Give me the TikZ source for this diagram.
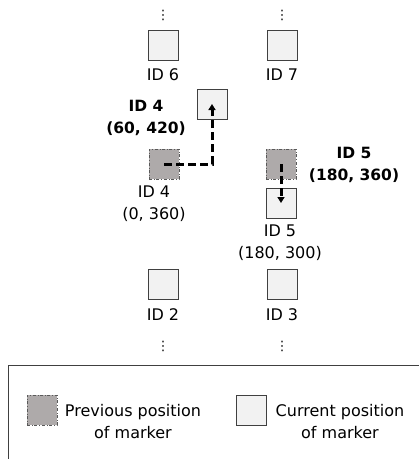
\documentclass[tikz,border=0pt]{standalone}
\usepackage{fontspec}
\setmainfont{DejaVu Sans}
\usetikzlibrary{arrows.meta}
\definecolor{prevgray}{RGB}{174,170,170}
\definecolor{curfill}{RGB}{242,242,242}

\begin{document}
\begin{tikzpicture}[x=1pt, y=-1pt,
	cur/.style={draw=black!75, fill=curfill, minimum size=30pt, inner sep=0pt, line width=0.8pt},
	prev/.style={draw=black!65, dash dot, fill=prevgray, minimum size=30pt, inner sep=0pt, line width=0.6pt},
	lbl/.style={font=\fontsize{16}{22}\selectfont, align=center, inner sep=0pt},
	blbl/.style={font=\fontsize{15.5}{22}\selectfont\bfseries, align=center, inner sep=0pt},
	dotsnode/.style={inner sep=0pt, font=\fontsize{13}{13}\selectfont},
	move/.style={line width=3pt, dash pattern=on 8pt off 4pt, -{Triangle[length=6pt,width=7pt]}}]
		\useasboundingbox (0,0) rectangle (419,459);

		% grid of markers
		\path (163,15) node[dotsnode] (d6) {⋮}
		(282,15) node[dotsnode] (d7) {⋮}
		(163,45) node[cur] (c6) {}
		(282,45) node[cur] (c7) {}
		(163,75) node[lbl] (l6) {ID 6}
		(282,75) node[lbl] (l7) {ID 7}
		(212,104) node[cur] (c4) {}
		(164,164) node[prev] (p4) {}
		(281,164) node[prev] (p5) {}
		(281,203) node[cur] (c5) {}
		(154,204) node[lbl] (l4) {ID 4\\(0, 360)}
		(280,243) node[lbl] (l5) {ID 5\\(180, 300)}
		(146,118) node[blbl] (b4) {ID 4\\(60, 420)}
		(354,165) node[blbl] (b5) {ID 5\\(180, 360)}
		(163,284) node[cur] (c2) {}
		(282,284) node[cur] (c3) {}
		(163,315) node[lbl] (l2) {ID 2}
		(282,315) node[lbl] (l3) {ID 3}
		(163,346) node[dotsnode] (d2) {⋮}
		(282,346) node[dotsnode] (d3) {⋮};

		% moves
		\draw[move] (p4.center) -| (c4.center);
		\draw[move] (p5.center) -- (c5.center);

		% legend
		\draw[black!75, line width=0.8pt] (8,480) |- (440,365);
		\path (42,410) node[prev] (kp) {}
		(133,422) node[lbl] (kpl) {Previous position\\of marker}
		(251,410) node[cur] (kc) {}
		(340,422) node[lbl] (kcl) {Current position\\of marker};

	\end{tikzpicture}
\end{document}
